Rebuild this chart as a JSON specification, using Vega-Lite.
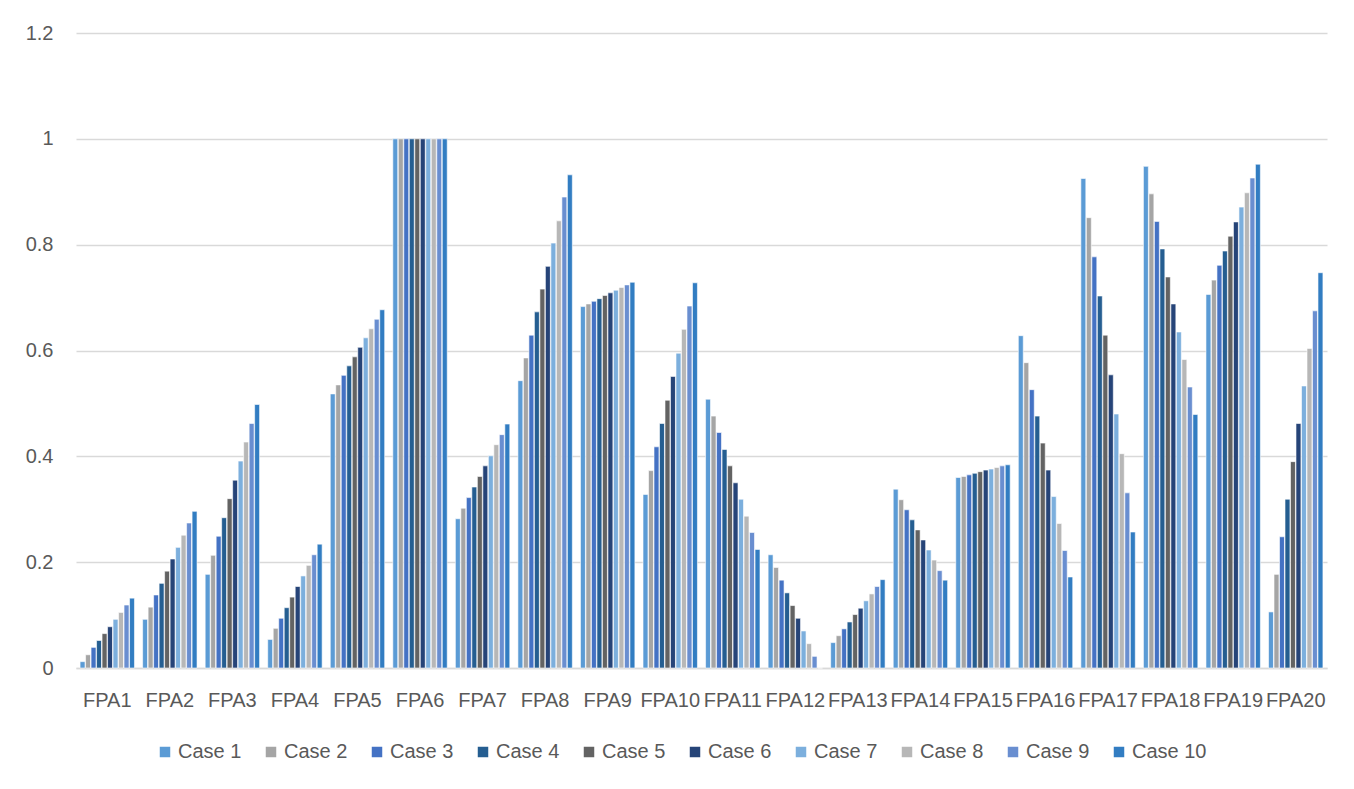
{
  "$schema": "https://vega.github.io/schema/vega-lite/v6.json",
  "width": 1251,
  "height": 635,
  "autosize": {"type": "none"},
  "padding": {"left": 76, "top": 33, "right": 27, "bottom": 121},
  "background": "#ffffff",
  "data": {
    "values": [
      {"fpa": "FPA1", "case": "Case 1", "value": 0.012}, {"fpa": "FPA1", "case": "Case 2", "value": 0.025}, {"fpa": "FPA1", "case": "Case 3", "value": 0.039}, {"fpa": "FPA1", "case": "Case 4", "value": 0.052}, {"fpa": "FPA1", "case": "Case 5", "value": 0.065}, {"fpa": "FPA1", "case": "Case 6", "value": 0.078}, {"fpa": "FPA1", "case": "Case 7", "value": 0.092}, {"fpa": "FPA1", "case": "Case 8", "value": 0.105}, {"fpa": "FPA1", "case": "Case 9", "value": 0.119}, {"fpa": "FPA1", "case": "Case 10", "value": 0.132},
      {"fpa": "FPA2", "case": "Case 1", "value": 0.092}, {"fpa": "FPA2", "case": "Case 2", "value": 0.115}, {"fpa": "FPA2", "case": "Case 3", "value": 0.138}, {"fpa": "FPA2", "case": "Case 4", "value": 0.160}, {"fpa": "FPA2", "case": "Case 5", "value": 0.183}, {"fpa": "FPA2", "case": "Case 6", "value": 0.206}, {"fpa": "FPA2", "case": "Case 7", "value": 0.228}, {"fpa": "FPA2", "case": "Case 8", "value": 0.251}, {"fpa": "FPA2", "case": "Case 9", "value": 0.274}, {"fpa": "FPA2", "case": "Case 10", "value": 0.296},
      {"fpa": "FPA3", "case": "Case 1", "value": 0.177}, {"fpa": "FPA3", "case": "Case 2", "value": 0.213}, {"fpa": "FPA3", "case": "Case 3", "value": 0.249}, {"fpa": "FPA3", "case": "Case 4", "value": 0.284}, {"fpa": "FPA3", "case": "Case 5", "value": 0.320}, {"fpa": "FPA3", "case": "Case 6", "value": 0.355}, {"fpa": "FPA3", "case": "Case 7", "value": 0.391}, {"fpa": "FPA3", "case": "Case 8", "value": 0.427}, {"fpa": "FPA3", "case": "Case 9", "value": 0.462}, {"fpa": "FPA3", "case": "Case 10", "value": 0.498},
      {"fpa": "FPA4", "case": "Case 1", "value": 0.054}, {"fpa": "FPA4", "case": "Case 2", "value": 0.075}, {"fpa": "FPA4", "case": "Case 3", "value": 0.094}, {"fpa": "FPA4", "case": "Case 4", "value": 0.114}, {"fpa": "FPA4", "case": "Case 5", "value": 0.134}, {"fpa": "FPA4", "case": "Case 6", "value": 0.154}, {"fpa": "FPA4", "case": "Case 7", "value": 0.174}, {"fpa": "FPA4", "case": "Case 8", "value": 0.194}, {"fpa": "FPA4", "case": "Case 9", "value": 0.214}, {"fpa": "FPA4", "case": "Case 10", "value": 0.234},
      {"fpa": "FPA5", "case": "Case 1", "value": 0.518}, {"fpa": "FPA5", "case": "Case 2", "value": 0.535}, {"fpa": "FPA5", "case": "Case 3", "value": 0.553}, {"fpa": "FPA5", "case": "Case 4", "value": 0.571}, {"fpa": "FPA5", "case": "Case 5", "value": 0.588}, {"fpa": "FPA5", "case": "Case 6", "value": 0.606}, {"fpa": "FPA5", "case": "Case 7", "value": 0.624}, {"fpa": "FPA5", "case": "Case 8", "value": 0.641}, {"fpa": "FPA5", "case": "Case 9", "value": 0.659}, {"fpa": "FPA5", "case": "Case 10", "value": 0.677},
      {"fpa": "FPA6", "case": "Case 1", "value": 1}, {"fpa": "FPA6", "case": "Case 2", "value": 1}, {"fpa": "FPA6", "case": "Case 3", "value": 1}, {"fpa": "FPA6", "case": "Case 4", "value": 1}, {"fpa": "FPA6", "case": "Case 5", "value": 1}, {"fpa": "FPA6", "case": "Case 6", "value": 1}, {"fpa": "FPA6", "case": "Case 7", "value": 1}, {"fpa": "FPA6", "case": "Case 8", "value": 1}, {"fpa": "FPA6", "case": "Case 9", "value": 1}, {"fpa": "FPA6", "case": "Case 10", "value": 1},
      {"fpa": "FPA7", "case": "Case 1", "value": 0.282}, {"fpa": "FPA7", "case": "Case 2", "value": 0.302}, {"fpa": "FPA7", "case": "Case 3", "value": 0.322}, {"fpa": "FPA7", "case": "Case 4", "value": 0.342}, {"fpa": "FPA7", "case": "Case 5", "value": 0.362}, {"fpa": "FPA7", "case": "Case 6", "value": 0.382}, {"fpa": "FPA7", "case": "Case 7", "value": 0.401}, {"fpa": "FPA7", "case": "Case 8", "value": 0.422}, {"fpa": "FPA7", "case": "Case 9", "value": 0.441}, {"fpa": "FPA7", "case": "Case 10", "value": 0.461},
      {"fpa": "FPA8", "case": "Case 1", "value": 0.543}, {"fpa": "FPA8", "case": "Case 2", "value": 0.586}, {"fpa": "FPA8", "case": "Case 3", "value": 0.629}, {"fpa": "FPA8", "case": "Case 4", "value": 0.673}, {"fpa": "FPA8", "case": "Case 5", "value": 0.716}, {"fpa": "FPA8", "case": "Case 6", "value": 0.759}, {"fpa": "FPA8", "case": "Case 7", "value": 0.803}, {"fpa": "FPA8", "case": "Case 8", "value": 0.845}, {"fpa": "FPA8", "case": "Case 9", "value": 0.890}, {"fpa": "FPA8", "case": "Case 10", "value": 0.932},
      {"fpa": "FPA9", "case": "Case 1", "value": 0.683}, {"fpa": "FPA9", "case": "Case 2", "value": 0.688}, {"fpa": "FPA9", "case": "Case 3", "value": 0.693}, {"fpa": "FPA9", "case": "Case 4", "value": 0.698}, {"fpa": "FPA9", "case": "Case 5", "value": 0.704}, {"fpa": "FPA9", "case": "Case 6", "value": 0.709}, {"fpa": "FPA9", "case": "Case 7", "value": 0.714}, {"fpa": "FPA9", "case": "Case 8", "value": 0.719}, {"fpa": "FPA9", "case": "Case 9", "value": 0.724}, {"fpa": "FPA9", "case": "Case 10", "value": 0.729},
      {"fpa": "FPA10", "case": "Case 1", "value": 0.328}, {"fpa": "FPA10", "case": "Case 2", "value": 0.373}, {"fpa": "FPA10", "case": "Case 3", "value": 0.418}, {"fpa": "FPA10", "case": "Case 4", "value": 0.462}, {"fpa": "FPA10", "case": "Case 5", "value": 0.506}, {"fpa": "FPA10", "case": "Case 6", "value": 0.551}, {"fpa": "FPA10", "case": "Case 7", "value": 0.595}, {"fpa": "FPA10", "case": "Case 8", "value": 0.640}, {"fpa": "FPA10", "case": "Case 9", "value": 0.684}, {"fpa": "FPA10", "case": "Case 10", "value": 0.728},
      {"fpa": "FPA11", "case": "Case 1", "value": 0.508}, {"fpa": "FPA11", "case": "Case 2", "value": 0.476}, {"fpa": "FPA11", "case": "Case 3", "value": 0.445}, {"fpa": "FPA11", "case": "Case 4", "value": 0.413}, {"fpa": "FPA11", "case": "Case 5", "value": 0.382}, {"fpa": "FPA11", "case": "Case 6", "value": 0.350}, {"fpa": "FPA11", "case": "Case 7", "value": 0.319}, {"fpa": "FPA11", "case": "Case 8", "value": 0.287}, {"fpa": "FPA11", "case": "Case 9", "value": 0.256}, {"fpa": "FPA11", "case": "Case 10", "value": 0.224},
      {"fpa": "FPA12", "case": "Case 1", "value": 0.214}, {"fpa": "FPA12", "case": "Case 2", "value": 0.190}, {"fpa": "FPA12", "case": "Case 3", "value": 0.166}, {"fpa": "FPA12", "case": "Case 4", "value": 0.142}, {"fpa": "FPA12", "case": "Case 5", "value": 0.118}, {"fpa": "FPA12", "case": "Case 6", "value": 0.094}, {"fpa": "FPA12", "case": "Case 7", "value": 0.070}, {"fpa": "FPA12", "case": "Case 8", "value": 0.046}, {"fpa": "FPA12", "case": "Case 9", "value": 0.022}, {"fpa": "FPA12", "case": "Case 10", "value": 0},
      {"fpa": "FPA13", "case": "Case 1", "value": 0.048}, {"fpa": "FPA13", "case": "Case 2", "value": 0.061}, {"fpa": "FPA13", "case": "Case 3", "value": 0.074}, {"fpa": "FPA13", "case": "Case 4", "value": 0.087}, {"fpa": "FPA13", "case": "Case 5", "value": 0.101}, {"fpa": "FPA13", "case": "Case 6", "value": 0.113}, {"fpa": "FPA13", "case": "Case 7", "value": 0.127}, {"fpa": "FPA13", "case": "Case 8", "value": 0.140}, {"fpa": "FPA13", "case": "Case 9", "value": 0.154}, {"fpa": "FPA13", "case": "Case 10", "value": 0.167},
      {"fpa": "FPA14", "case": "Case 1", "value": 0.338}, {"fpa": "FPA14", "case": "Case 2", "value": 0.318}, {"fpa": "FPA14", "case": "Case 3", "value": 0.299}, {"fpa": "FPA14", "case": "Case 4", "value": 0.280}, {"fpa": "FPA14", "case": "Case 5", "value": 0.261}, {"fpa": "FPA14", "case": "Case 6", "value": 0.242}, {"fpa": "FPA14", "case": "Case 7", "value": 0.223}, {"fpa": "FPA14", "case": "Case 8", "value": 0.204}, {"fpa": "FPA14", "case": "Case 9", "value": 0.184}, {"fpa": "FPA14", "case": "Case 10", "value": 0.166},
      {"fpa": "FPA15", "case": "Case 1", "value": 0.360}, {"fpa": "FPA15", "case": "Case 2", "value": 0.362}, {"fpa": "FPA15", "case": "Case 3", "value": 0.365}, {"fpa": "FPA15", "case": "Case 4", "value": 0.368}, {"fpa": "FPA15", "case": "Case 5", "value": 0.371}, {"fpa": "FPA15", "case": "Case 6", "value": 0.374}, {"fpa": "FPA15", "case": "Case 7", "value": 0.376}, {"fpa": "FPA15", "case": "Case 8", "value": 0.379}, {"fpa": "FPA15", "case": "Case 9", "value": 0.382}, {"fpa": "FPA15", "case": "Case 10", "value": 0.384},
      {"fpa": "FPA16", "case": "Case 1", "value": 0.628}, {"fpa": "FPA16", "case": "Case 2", "value": 0.577}, {"fpa": "FPA16", "case": "Case 3", "value": 0.526}, {"fpa": "FPA16", "case": "Case 4", "value": 0.476}, {"fpa": "FPA16", "case": "Case 5", "value": 0.425}, {"fpa": "FPA16", "case": "Case 6", "value": 0.374}, {"fpa": "FPA16", "case": "Case 7", "value": 0.324}, {"fpa": "FPA16", "case": "Case 8", "value": 0.273}, {"fpa": "FPA16", "case": "Case 9", "value": 0.222}, {"fpa": "FPA16", "case": "Case 10", "value": 0.172},
      {"fpa": "FPA17", "case": "Case 1", "value": 0.925}, {"fpa": "FPA17", "case": "Case 2", "value": 0.851}, {"fpa": "FPA17", "case": "Case 3", "value": 0.777}, {"fpa": "FPA17", "case": "Case 4", "value": 0.703}, {"fpa": "FPA17", "case": "Case 5", "value": 0.629}, {"fpa": "FPA17", "case": "Case 6", "value": 0.554}, {"fpa": "FPA17", "case": "Case 7", "value": 0.480}, {"fpa": "FPA17", "case": "Case 8", "value": 0.405}, {"fpa": "FPA17", "case": "Case 9", "value": 0.331}, {"fpa": "FPA17", "case": "Case 10", "value": 0.257},
      {"fpa": "FPA18", "case": "Case 1", "value": 0.948}, {"fpa": "FPA18", "case": "Case 2", "value": 0.896}, {"fpa": "FPA18", "case": "Case 3", "value": 0.844}, {"fpa": "FPA18", "case": "Case 4", "value": 0.792}, {"fpa": "FPA18", "case": "Case 5", "value": 0.739}, {"fpa": "FPA18", "case": "Case 6", "value": 0.688}, {"fpa": "FPA18", "case": "Case 7", "value": 0.635}, {"fpa": "FPA18", "case": "Case 8", "value": 0.583}, {"fpa": "FPA18", "case": "Case 9", "value": 0.531}, {"fpa": "FPA18", "case": "Case 10", "value": 0.479},
      {"fpa": "FPA19", "case": "Case 1", "value": 0.706}, {"fpa": "FPA19", "case": "Case 2", "value": 0.733}, {"fpa": "FPA19", "case": "Case 3", "value": 0.761}, {"fpa": "FPA19", "case": "Case 4", "value": 0.788}, {"fpa": "FPA19", "case": "Case 5", "value": 0.816}, {"fpa": "FPA19", "case": "Case 6", "value": 0.843}, {"fpa": "FPA19", "case": "Case 7", "value": 0.871}, {"fpa": "FPA19", "case": "Case 8", "value": 0.898}, {"fpa": "FPA19", "case": "Case 9", "value": 0.926}, {"fpa": "FPA19", "case": "Case 10", "value": 0.952},
      {"fpa": "FPA20", "case": "Case 1", "value": 0.106}, {"fpa": "FPA20", "case": "Case 2", "value": 0.177}, {"fpa": "FPA20", "case": "Case 3", "value": 0.248}, {"fpa": "FPA20", "case": "Case 4", "value": 0.319}, {"fpa": "FPA20", "case": "Case 5", "value": 0.390}, {"fpa": "FPA20", "case": "Case 6", "value": 0.462}, {"fpa": "FPA20", "case": "Case 7", "value": 0.533}, {"fpa": "FPA20", "case": "Case 8", "value": 0.604}, {"fpa": "FPA20", "case": "Case 9", "value": 0.675}, {"fpa": "FPA20", "case": "Case 10", "value": 0.747}
    ]
  },
  "mark": {"type": "bar", "stroke": "#ffffff", "strokeWidth": 0.6},
  "encoding": {
    "x": {
      "field": "fpa",
      "type": "nominal",
      "sort": null,
      "scale": {"paddingInner": 0.13, "paddingOuter": 0.065},
      "axis": {
        "title": null,
        "labelAngle": 0,
        "labelFont": "Liberation Sans",
        "labelFontSize": 20,
        "labelColor": "#595959",
        "labelPadding": 22,
        "ticks": false,
        "domainColor": "#D9D9D9",
        "domainWidth": 1.5,
        "grid": false
      }
    },
    "xOffset": {
      "field": "case",
      "type": "nominal",
      "scale": {
        "domain": ["Case 1", "Case 2", "Case 3", "Case 4", "Case 5", "Case 6", "Case 7", "Case 8", "Case 9", "Case 10"],
        "paddingInner": 0.1,
        "paddingOuter": 0
      }
    },
    "y": {
      "field": "value",
      "type": "quantitative",
      "scale": {"domain": [0, 1.2], "nice": false},
      "axis": {
        "title": null,
        "values": [0, 0.2, 0.4, 0.6, 0.8, 1, 1.2],
        "format": "~f",
        "labelFont": "Liberation Sans",
        "labelFontSize": 20,
        "labelColor": "#595959",
        "labelPadding": 23,
        "ticks": false,
        "domain": false,
        "grid": true,
        "gridColor": "#D9D9D9",
        "gridWidth": 1.5
      }
    },
    "color": {
      "field": "case",
      "type": "nominal",
      "scale": {
        "domain": ["Case 1", "Case 2", "Case 3", "Case 4", "Case 5", "Case 6", "Case 7", "Case 8", "Case 9", "Case 10"],
        "range": ["#5B9BD5", "#A5A5A5", "#4472C4", "#255E91", "#636363", "#264478", "#7CAFDD", "#B7B7B7", "#698ED0", "#327DC2"]
      },
      "legend": {
        "title": null,
        "orient": "none",
        "direction": "horizontal",
        "legendX": 79,
        "legendY": 709,
        "symbolType": "square",
        "symbolSize": 110,
        "symbolStrokeWidth": 0,
        "labelFont": "Liberation Sans",
        "labelFontSize": 20,
        "labelColor": "#595959",
        "labelOffset": 3,
        "columnPadding": 19
      }
    }
  },
  "config": {"view": {"stroke": null}}
}
